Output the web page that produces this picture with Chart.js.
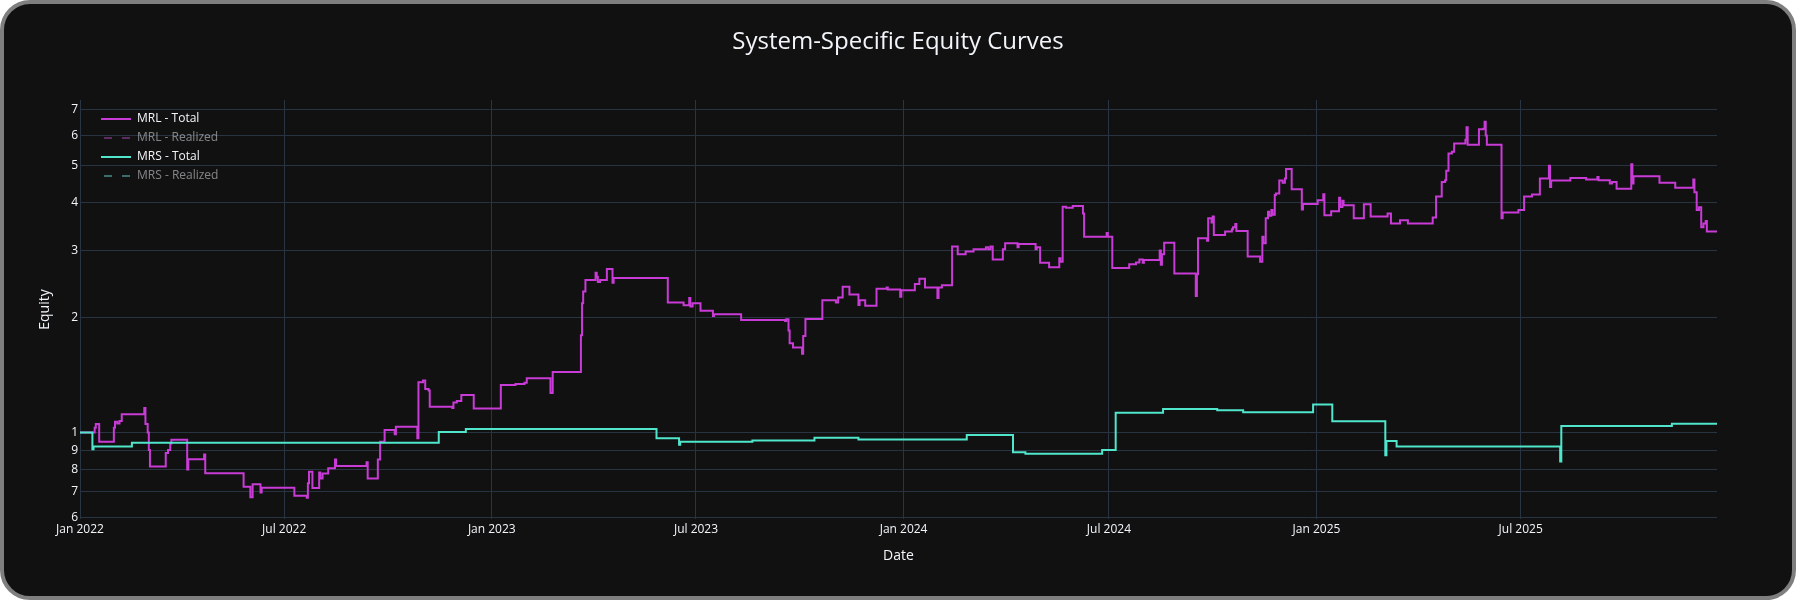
<!DOCTYPE html>
<html>
<head>
<meta charset="utf-8">
<title>System-Specific Equity Curves</title>
<script src="https://cdn.jsdelivr.net/npm/chart.js@4.4.1/dist/chart.umd.min.js"></script>
<style>
  body { margin: 0; background: #ffffff; }
  #frame {
    position: absolute; left: 0; top: 0;
    width: 1796px; height: 600px;
    box-sizing: border-box;
    border: 4px solid #7f7f7f;
    border-radius: 30px;
    background: #111111;
  }
  #chart { position: absolute; left: 0; top: 0; z-index: 1; }
</style>
</head>
<body>
<div id="frame"></div>
<canvas id="chart" width="1796" height="600"></canvas>
<script>
// equity values, [date, equity], held until the next date
const MRL_TOTAL = [
    ['2022-01-01',1.000],['2022-01-14',1.030],['2022-01-15',1.054],['2022-01-18',0.947],
    ['2022-01-31',1.030],['2022-02-01',1.068],['2022-02-03',1.057],['2022-02-05',1.072],
    ['2022-02-07',1.117],['2022-02-27',1.160],['2022-02-28',1.054],['2022-03-02',1.000],
    ['2022-03-03',0.900],['2022-03-04',0.815],['2022-03-18',0.884],['2022-03-20',0.900],
    ['2022-03-22',0.937],['2022-03-23',0.958],['2022-04-06',0.800],['2022-04-07',0.852],
    ['2022-04-21',0.876],['2022-04-22',0.783],['2022-05-26',0.722],['2022-06-01',0.677],
    ['2022-06-03',0.733],['2022-06-10',0.697],['2022-06-11',0.717],['2022-07-10',0.683],
    ['2022-07-21',0.675],['2022-07-22',0.737],['2022-07-23',0.790],['2022-07-26',0.716],
    ['2022-08-01',0.786],['2022-08-02',0.758],['2022-08-04',0.782],['2022-08-09',0.807],
    ['2022-08-15',0.850],['2022-08-16',0.818],['2022-09-12',0.836],['2022-09-13',0.758],
    ['2022-09-22',0.850],['2022-09-24',0.947],['2022-09-28',1.016],['2022-10-07',0.990],
    ['2022-10-08',1.036],['2022-10-27',0.966],['2022-10-28',1.355],['2022-11-01',1.370],
    ['2022-11-03',1.300],['2022-11-06',1.290],['2022-11-07',1.169],['2022-11-27',1.160],
    ['2022-11-28',1.200],['2022-12-01',1.210],['2022-12-05',1.255],['2022-12-16',1.156],
    ['2023-01-09',1.333],['2023-01-22',1.340],['2023-01-30',1.350],['2023-02-01',1.388],
    ['2023-02-22',1.270],['2023-02-24',1.442],['2023-03-21',1.800],['2023-03-22',2.180],
    ['2023-03-23',2.340],['2023-03-25',2.510],['2023-04-03',2.620],['2023-04-04',2.560],
    ['2023-04-05',2.480],['2023-04-07',2.510],['2023-04-13',2.680],['2023-04-18',2.470],
    ['2023-04-19',2.540],['2023-06-06',2.190],['2023-06-20',2.155],['2023-06-25',2.250],
    ['2023-06-26',2.140],['2023-06-28',2.180],['2023-07-05',2.085],['2023-07-16',2.020],
    ['2023-07-17',2.040],['2023-08-10',1.973],['2023-09-18',1.960],['2023-09-19',1.980],
    ['2023-09-21',1.850],['2023-09-22',1.714],['2023-09-25',1.670],['2023-10-03',1.610],
    ['2023-10-04',1.790],['2023-10-06',1.985],['2023-10-21',2.220],['2023-11-02',2.190],
    ['2023-11-04',2.260],['2023-11-08',2.410],['2023-11-14',2.300],['2023-11-22',2.160],
    ['2023-11-23',2.220],['2023-11-28',2.150],['2023-12-08',2.380],['2023-12-17',2.400],
    ['2023-12-18',2.370],['2023-12-29',2.270],['2023-12-30',2.360],
    ['2024-01-11',2.450],['2024-01-15',2.530],['2024-01-20',2.400],['2024-01-31',2.250],
    ['2024-02-01',2.400],['2024-02-04',2.430],['2024-02-13',3.070],['2024-02-18',2.930],
    ['2024-02-25',2.980],['2024-03-03',3.020],['2024-03-14',3.060],['2024-03-16',3.020],
    ['2024-03-18',3.070],['2024-03-20',2.840],['2024-03-29',3.020],['2024-03-31',3.130],
    ['2024-04-11',3.060],['2024-04-12',3.120],['2024-04-27',3.020],['2024-04-28',3.060],
    ['2024-05-01',2.786],['2024-05-09',2.710],['2024-05-18',2.860],['2024-05-19',2.800],
    ['2024-05-21',3.905],['2024-05-24',3.880],['2024-05-30',3.920],['2024-06-08',3.750],
    ['2024-06-09',3.260],['2024-06-29',3.330],['2024-06-30',3.260],['2024-07-04',2.700],
    ['2024-07-19',2.760],['2024-07-25',2.790],['2024-07-28',2.840],['2024-07-31',2.786],
    ['2024-08-01',2.830],['2024-08-15',3.000],['2024-08-16',2.750],['2024-08-17',2.930],
    ['2024-08-19',3.140],['2024-08-28',2.610],['2024-09-16',2.280],['2024-09-17',2.600],
    ['2024-09-18',3.230],['2024-09-26',3.180],['2024-09-27',3.640],['2024-09-30',3.550],
    ['2024-10-01',3.680],['2024-10-02',3.290],['2024-10-12',3.360],['2024-10-18',3.410],
    ['2024-10-19',3.450],['2024-10-21',3.520],['2024-10-22',3.370],['2024-11-01',2.890],
    ['2024-11-12',2.800],['2024-11-14',3.260],['2024-11-15',3.130],['2024-11-17',3.640],
    ['2024-11-19',3.790],['2024-11-20',3.700],['2024-11-22',3.830],['2024-11-23',3.720],
    ['2024-11-25',4.190],['2024-11-26',4.230],['2024-11-29',4.570],['2024-12-02',4.510],
    ['2024-12-04',4.630],['2024-12-05',4.900],['2024-12-10',4.340],['2024-12-19',3.840],
    ['2024-12-20',3.970],
    ['2025-01-02',4.060],['2025-01-07',4.210],['2025-01-08',3.710],['2025-01-14',3.800],
    ['2025-01-21',4.120],['2025-01-22',3.900],['2025-01-24',4.050],['2025-01-25',3.940],
    ['2025-02-03',3.640],['2025-02-12',3.960],['2025-02-18',3.680],['2025-03-05',3.750],
    ['2025-03-08',3.530],['2025-03-16',3.600],['2025-03-23',3.530],['2025-04-14',3.660],
    ['2025-04-17',4.150],['2025-04-22',4.530],['2025-04-25',4.580],['2025-04-26',4.850],
    ['2025-04-28',5.380],['2025-05-01',5.440],['2025-05-03',5.720],['2025-05-13',5.850],
    ['2025-05-14',6.300],['2025-05-15',5.670],['2025-05-25',6.230],['2025-05-29',6.250],
    ['2025-05-30',6.520],['2025-05-31',6.000],['2025-06-01',5.670],['2025-06-14',3.640],
    ['2025-06-15',3.770],['2025-06-29',3.830],['2025-07-04',4.150],['2025-07-11',4.200],
    ['2025-07-18',4.630],['2025-07-26',5.000],['2025-07-27',4.400],['2025-07-28',4.570],
    ['2025-08-14',4.640],['2025-08-28',4.600],['2025-09-07',4.670],['2025-09-08',4.580],
    ['2025-09-18',4.490],['2025-09-20',4.530],['2025-09-24',4.350],['2025-10-07',5.040],
    ['2025-10-08',4.490],['2025-10-09',4.690],['2025-11-01',4.510],['2025-11-15',4.380],
    ['2025-12-01',4.600],['2025-12-02',4.260],['2025-12-04',3.830],['2025-12-06',3.890],
    ['2025-12-08',3.450],['2025-12-10',3.530],['2025-12-12',3.580],['2025-12-13',3.360],
    ['2025-12-22',3.360]
];

const MRS_TOTAL = [
    ['2022-01-01',1.000],['2022-01-12',0.905],['2022-01-13',0.919],['2022-02-16',0.941],
    ['2022-11-15',1.004],['2022-12-09',1.022],['2023-05-27',0.967],['2023-06-16',0.929],
    ['2023-06-17',0.947],['2023-08-20',0.953],['2023-10-14',0.970],['2023-11-22',0.960],
    ['2024-02-26',0.985],['2024-04-07',0.888],['2024-04-18',0.880],['2024-06-25',0.901],
    ['2024-07-07',1.128],['2024-08-18',1.153],['2024-10-05',1.145],['2024-10-28',1.131],
    ['2024-12-29',1.184],['2025-01-15',1.071],['2025-03-03',0.872],['2025-03-04',0.951],
    ['2025-03-13',0.919],['2025-08-05',0.840],['2025-08-06',1.041],['2025-11-12',1.055],
    ['2025-12-22',1.055]
];

// realized curves are legend-only in the picture, nothing of them is drawn
const MRL_REALIZED = [];
const MRS_REALIZED = [];

const SERIES_LABELS = ['MRL - Total', 'MRL - Realized', 'MRS - Total', 'MRS - Realized'];

const X_TICK_DATES = ['2022-01-01','2022-07-01','2023-01-01','2023-07-01',
                      '2024-01-01','2024-07-01','2025-01-01','2025-07-01'];
const X_TICK_LABELS = ['Jan 2022','Jul 2022','Jan 2023','Jul 2023',
                       'Jan 2024','Jul 2024','Jan 2025','Jul 2025'];
const X_START = '2022-01-01';
const X_END = '2025-12-22';

const Y_TICKS = [0.6, 0.7, 0.8, 0.9, 1, 2, 3, 4, 5, 6, 7];
const Y_TICK_LABELS = ['6','7','8','9','1','2','3','4','5','6','7'];
const Y_MIN = 0.594;
const Y_MAX = 7.43;

const TEXT = '#f2f5fa';
const DIM_TEXT = 'rgba(242,245,250,0.5)';
const GRID = '#283442';

function toPoints(rows){
    return rows.map(r => ({x: Date.parse(r[0]), y: r[1]}));
}

Chart.defaults.font.family = "'Open Sans', sans-serif";
Chart.defaults.font.size = 12;
Chart.defaults.color = TEXT;

// put the legend at the top-left corner inside the plot
const legendSpot = {
    id: 'legendSpot',
    afterLayout(chart){
        chart.legend.left = chart.chartArea.left + 14;
        chart.legend.top = chart.chartArea.top + 6;
    }
};

new Chart(document.getElementById('chart'), {
    type: 'line',
    data: {
        datasets: [{
            label: SERIES_LABELS[0],
            data: toPoints(MRL_TOTAL),
            borderColor: '#c93bd6',
            borderWidth: 2,
            stepped: 'before',
            order: 3
        },{
            label: SERIES_LABELS[1],
            data: MRL_REALIZED,
            borderColor: '#5c2b62',
            borderDash: [8, 10],
            borderWidth: 2,
            hidden: true,
            order: 2
        },{
            label: SERIES_LABELS[2],
            data: toPoints(MRS_TOTAL),
            borderColor: '#4fe6cc',
            borderWidth: 2,
            stepped: 'before',
            order: 1
        },{
            label: SERIES_LABELS[3],
            data: MRS_REALIZED,
            borderColor: '#3a6e6a',
            borderDash: [8, 10],
            borderWidth: 2,
            hidden: true,
            order: 0
        }]
    },
    options: {
        responsive: false,
        animation: false,
        events: [],
        elements: { point: { radius: 0 }, line: { tension: 0 } },
        layout: { padding: { left: 20, right: 20, top: 10, bottom: 20 } },
        plugins: {
            title: {
                display: true,
                text: 'System-Specific Equity Curves',
                color: TEXT,
                font: { size: 24, weight: 'normal' },
                padding: { top: 17.6, bottom: 43.6 }
            },
            legend: {
                position: 'chartArea',
                align: 'start',
                labels: {
                    usePointStyle: true,
                    pointStyleWidth: 30,
                    padding: 7,
                    font: { size: 12 },
                    generateLabels: (chart) => chart.data.datasets.map((ds, i) => ({
                        text: ds.label,
                        fontColor: ds.hidden ? DIM_TEXT : TEXT,
                        strokeStyle: ds.borderColor,
                        fillStyle: ds.borderColor,
                        lineWidth: 2,
                        lineDash: ds.borderDash || [],
                        lineDashOffset: ds.borderDash ? 15 : 0,
                        pointStyle: 'line',
                        hidden: false,
                        datasetIndex: i
                    }))
                }
            },
            tooltip: { enabled: false }
        },
        scales: {
            x: {
                type: 'linear',
                min: Date.parse(X_START),
                max: Date.parse(X_END),
                afterBuildTicks: (scale) => {
                    scale.ticks = X_TICK_DATES.map(d => ({value: Date.parse(d)}));
                },
                afterFit: (scale) => { scale.height = 61; },
                ticks: {
                    autoSkip: false,
                    maxRotation: 0,
                    padding: 3,
                    color: TEXT,
                    callback: (value, index) => X_TICK_LABELS[index]
                },
                grid: { color: GRID, drawTicks: false },
                border: { display: false },
                title: {
                    display: true,
                    text: 'Date',
                    color: TEXT,
                    font: { size: 14 },
                    padding: { top: 0, bottom: 16 }
                }
            },
            y: {
                type: 'logarithmic',
                min: Y_MIN,
                max: Y_MAX,
                afterBuildTicks: (scale) => {
                    scale.ticks = Y_TICKS.map(v => ({value: v}));
                },
                afterFit: (scale) => { scale.width = 60; },
                ticks: {
                    autoSkip: false,
                    padding: 2,
                    color: TEXT,
                    callback: (value, index) => Y_TICK_LABELS[index]
                },
                grid: { color: GRID, drawTicks: false },
                border: { display: false },
                title: {
                    display: true,
                    text: 'Equity',
                    color: TEXT,
                    font: { size: 14 },
                    padding: { top: 17, bottom: 0 }
                }
            },
            // empty right margin box, keeps the title centred on the page
            yRight: {
                type: 'linear',
                position: 'right',
                afterFit: (scale) => { scale.width = 59; },
                ticks: { display: false },
                grid: { display: false },
                border: { display: false }
            }
        }
    },
    plugins: [legendSpot]
});
</script>
</body>
</html>
